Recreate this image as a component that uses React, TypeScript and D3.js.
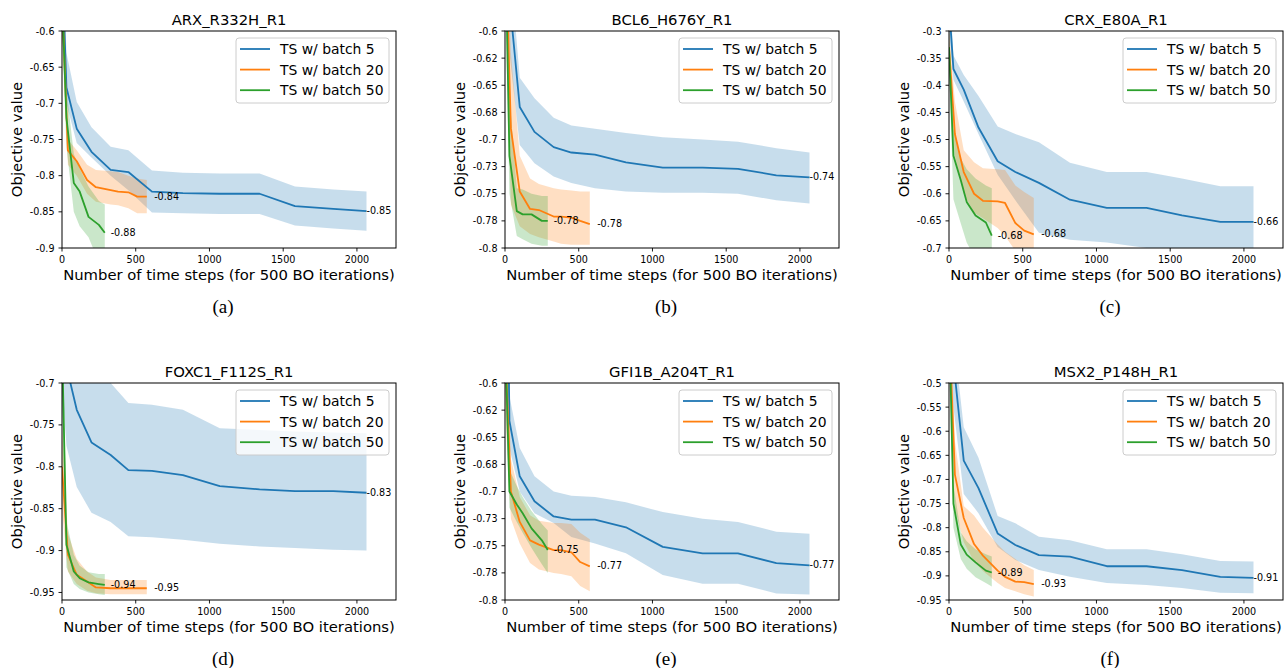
import React from "react";
import * as d3 from "d3";

// time-step grids for each batch size
const STEPS_B5 = [0, 30, 100, 200, 330, 450, 610, 820, 1070, 1340, 1580, 1840, 2065];
const STEPS_B20 = [0, 40, 100, 170, 230, 330, 380, 450, 510, 575];
const STEPS_B50 = [0, 30, 80, 120, 180, 250, 290];

const X_TICKS = [0, 500, 1000, 1500, 2000];
const SERIES_NAMES = ["TS w/ batch 5", "TS w/ batch 20", "TS w/ batch 50"];
const COLORS = ["#1f77b4", "#ff7f0e", "#2ca02c"];
const CAPTIONS = ["(a)", "(b)", "(c)", "(d)", "(e)", "(f)"];

// (a) ARX_R332H_R1
const arxMean5 = [-0.5, -0.678, -0.735, -0.767, -0.792, -0.795, -0.822, -0.824, -0.825, -0.825, -0.842, -0.846, -0.849];
const arxHi5 = [-0.45, -0.63, -0.698, -0.733, -0.76, -0.765, -0.793, -0.796, -0.797, -0.797, -0.815, -0.819, -0.822];
const arxLo5 = [-0.55, -0.7, -0.755, -0.775, -0.8, -0.82, -0.851, -0.852, -0.853, -0.853, -0.869, -0.873, -0.876];
const arxMean20 = [-0.55, -0.765, -0.78, -0.806, -0.816, -0.82, -0.822, -0.823, -0.829, -0.829];
const arxHi20 = [-0.5, -0.75, -0.765, -0.785, -0.792, -0.794, -0.795, -0.8, -0.804, -0.806];
const arxLo20 = [-0.6, -0.785, -0.8, -0.825, -0.836, -0.84, -0.841, -0.845, -0.852, -0.852];
const arxMean50 = [-0.55, -0.72, -0.81, -0.822, -0.857, -0.868, -0.879];
const arxHi50 = [-0.5, -0.68, -0.77, -0.79, -0.815, -0.835, -0.84];
const arxLo50 = [-0.6, -0.76, -0.85, -0.87, -0.885, -0.92, -0.93];
const arxEnds = ["-0.85", "-0.84", "-0.88"];

// (b) BCL6_H676Y_R1
const bclMean5 = [-0.45, -0.57, -0.67, -0.693, -0.707, -0.712, -0.714, -0.721, -0.726, -0.726, -0.727, -0.733, -0.735];
const bclHi5 = [-0.4, -0.53, -0.643, -0.662, -0.68, -0.687, -0.69, -0.694, -0.698, -0.7, -0.702, -0.708, -0.712];
const bclLo5 = [-0.5, -0.62, -0.705, -0.722, -0.734, -0.74, -0.745, -0.748, -0.749, -0.749, -0.75, -0.756, -0.759];
const bclMean20 = [-0.5, -0.69, -0.748, -0.764, -0.765, -0.771, -0.771, -0.772, -0.775, -0.778];
const bclHi20 = [-0.45, -0.62, -0.715, -0.736, -0.741, -0.745, -0.746, -0.747, -0.748, -0.748];
const bclLo20 = [-0.55, -0.76, -0.78, -0.787, -0.79, -0.794, -0.796, -0.797, -0.797, -0.797];
const bclMean50 = [-0.5, -0.715, -0.766, -0.769, -0.769, -0.775, -0.775];
const bclHi50 = [-0.45, -0.66, -0.745, -0.746, -0.75, -0.752, -0.752];
const bclLo50 = [-0.55, -0.75, -0.789, -0.792, -0.796, -0.798, -0.798];
const bclEnds = ["-0.74", "-0.78", "-0.78"];

// (c) CRX_E80A_R1
const crxMean5 = [-0.25, -0.37, -0.408, -0.478, -0.54, -0.56, -0.58, -0.611, -0.626, -0.626, -0.64, -0.652, -0.652];
const crxHi5 = [-0.2, -0.345, -0.381, -0.42, -0.476, -0.49, -0.505, -0.543, -0.56, -0.56, -0.572, -0.586, -0.586];
const crxLo5 = [-0.3, -0.39, -0.43, -0.49, -0.565, -0.612, -0.672, -0.685, -0.69, -0.7, -0.705, -0.71, -0.71];
const crxMean20 = [-0.33, -0.49, -0.56, -0.6, -0.613, -0.614, -0.617, -0.654, -0.668, -0.675];
const crxHi20 = [-0.3, -0.43, -0.52, -0.542, -0.553, -0.555, -0.556, -0.585, -0.597, -0.608];
const crxLo20 = [-0.36, -0.53, -0.6, -0.635, -0.645, -0.663, -0.678, -0.705, -0.72, -0.73];
const crxMean50 = [-0.33, -0.53, -0.575, -0.615, -0.64, -0.653, -0.677];
const crxHi50 = [-0.3, -0.48, -0.535, -0.555, -0.572, -0.585, -0.59];
const crxLo50 = [-0.36, -0.61, -0.655, -0.69, -0.72, -0.75, -0.76];
const crxEnds = ["-0.66", "-0.68", "-0.68"];

// (d) FOXC1_F112S_R1
const foxMean5 = [-0.6, -0.68, -0.732, -0.771, -0.786, -0.804, -0.805, -0.81, -0.823, -0.827, -0.829, -0.829, -0.831];
const foxHi5 = [-0.5, -0.55, -0.62, -0.67, -0.7, -0.724, -0.726, -0.732, -0.754, -0.756, -0.758, -0.759, -0.76];
const foxLo5 = [-0.7, -0.775, -0.824, -0.855, -0.866, -0.883, -0.884, -0.887, -0.892, -0.895, -0.897, -0.899, -0.9];
const foxMean20 = [-0.8, -0.905, -0.929, -0.937, -0.944, -0.945, -0.945, -0.945, -0.945, -0.945];
const foxHi20 = [-0.75, -0.88, -0.91, -0.925, -0.932, -0.935, -0.935, -0.935, -0.935, -0.935];
const foxLo20 = [-0.85, -0.925, -0.94, -0.948, -0.951, -0.952, -0.952, -0.952, -0.952, -0.952];
const foxMean50 = [-0.65, -0.893, -0.925, -0.933, -0.938, -0.94, -0.941];
const foxHi50 = [-0.6, -0.865, -0.905, -0.918, -0.926, -0.928, -0.928];
const foxLo50 = [-0.72, -0.92, -0.94, -0.946, -0.95, -0.952, -0.953];
const foxEnds = ["-0.83", "-0.95", "-0.94"];

// (e) GFI1B_A204T_R1
const gfiMean5 = [-0.3, -0.635, -0.686, -0.709, -0.723, -0.726, -0.726, -0.733, -0.751, -0.757, -0.757, -0.766, -0.768];
const gfiHi5 = [-0.25, -0.612, -0.66, -0.686, -0.7, -0.704, -0.705, -0.71, -0.719, -0.725, -0.728, -0.737, -0.739];
const gfiLo5 = [-0.35, -0.66, -0.7, -0.72, -0.729, -0.742, -0.748, -0.757, -0.777, -0.785, -0.785, -0.794, -0.795];
const gfiMean20 = [-0.56, -0.7, -0.728, -0.745, -0.749, -0.754, -0.754, -0.756, -0.765, -0.769];
const gfiHi20 = [-0.5, -0.67, -0.705, -0.722, -0.727, -0.729, -0.729, -0.73, -0.738, -0.744];
const gfiLo20 = [-0.62, -0.725, -0.748, -0.766, -0.772, -0.775, -0.776, -0.778, -0.787, -0.792];
const gfiMean50 = [-0.55, -0.7, -0.712, -0.72, -0.734, -0.745, -0.754];
const gfiHi50 = [-0.5, -0.68, -0.695, -0.705, -0.718, -0.73, -0.736];
const gfiLo50 = [-0.6, -0.715, -0.728, -0.738, -0.752, -0.767, -0.775];
const gfiEnds = ["-0.77", "-0.77", "-0.75"];

// (f) MSX2_P148H_R1
const msxMean5 = [-0.3, -0.456, -0.661, -0.718, -0.812, -0.836, -0.857, -0.86, -0.88, -0.88, -0.888, -0.902, -0.904];
const msxHi5 = [-0.2, -0.4, -0.592, -0.655, -0.776, -0.791, -0.819, -0.826, -0.845, -0.845, -0.855, -0.869, -0.87];
const msxLo5 = [-0.4, -0.55, -0.73, -0.77, -0.84, -0.867, -0.888, -0.902, -0.915, -0.919, -0.925, -0.935, -0.936];
const msxMean20 = [-0.37, -0.69, -0.78, -0.834, -0.858, -0.889, -0.902, -0.912, -0.913, -0.917];
const msxHi20 = [-0.3, -0.62, -0.755, -0.775, -0.8, -0.835, -0.85, -0.865, -0.878, -0.888];
const msxLo20 = [-0.45, -0.76, -0.83, -0.87, -0.89, -0.915, -0.925, -0.932, -0.938, -0.943];
const msxMean50 = [-0.35, -0.75, -0.835, -0.856, -0.872, -0.889, -0.893];
const msxHi50 = [-0.3, -0.71, -0.81, -0.828, -0.845, -0.855, -0.86];
const msxLo50 = [-0.45, -0.8, -0.865, -0.885, -0.903, -0.915, -0.922];
const msxEnds = ["-0.91", "-0.93", "-0.89"];

// y tick values and their printed labels
const ticksA = [-0.9, -0.85, -0.8, -0.75, -0.7, -0.65, -0.6];
const labelsA = ["-0.9", "-0.85", "-0.8", "-0.75", "-0.7", "-0.65", "-0.6"];
const ticksB = [-0.8, -0.775, -0.75, -0.725, -0.7, -0.675, -0.65, -0.625, -0.6];
const labelsB = ["-0.8", "-0.78", "-0.75", "-0.73", "-0.7", "-0.68", "-0.65", "-0.62", "-0.6"];
const ticksC = [-0.7, -0.65, -0.6, -0.55, -0.5, -0.45, -0.4, -0.35, -0.3];
const labelsC = ["-0.7", "-0.65", "-0.6", "-0.55", "-0.5", "-0.45", "-0.4", "-0.35", "-0.3"];
const ticksD = [-0.95, -0.9, -0.85, -0.8, -0.75, -0.7];
const labelsD = ["-0.95", "-0.9", "-0.85", "-0.8", "-0.75", "-0.7"];
const ticksF = [-0.95, -0.9, -0.85, -0.8, -0.75, -0.7, -0.65, -0.6, -0.55, -0.5];
const labelsF = ["-0.95", "-0.9", "-0.85", "-0.8", "-0.75", "-0.7", "-0.65", "-0.6", "-0.55", "-0.5"];

const STEPS = [STEPS_B5, STEPS_B20, STEPS_B50];

const PANELS = [
  { title: "ARX_R332H_R1", yDomain: [-0.9, -0.6], ticks: ticksA, labels: labelsA,
    mean: [arxMean5, arxMean20, arxMean50], lo: [arxLo5, arxLo20, arxLo50], hi: [arxHi5, arxHi20, arxHi50], ends: arxEnds },
  { title: "BCL6_H676Y_R1", yDomain: [-0.8, -0.6], ticks: ticksB, labels: labelsB,
    mean: [bclMean5, bclMean20, bclMean50], lo: [bclLo5, bclLo20, bclLo50], hi: [bclHi5, bclHi20, bclHi50], ends: bclEnds },
  { title: "CRX_E80A_R1", yDomain: [-0.7, -0.3], ticks: ticksC, labels: labelsC,
    mean: [crxMean5, crxMean20, crxMean50], lo: [crxLo5, crxLo20, crxLo50], hi: [crxHi5, crxHi20, crxHi50], ends: crxEnds },
  { title: "FOXC1_F112S_R1", yDomain: [-0.959, -0.7], ticks: ticksD, labels: labelsD,
    mean: [foxMean5, foxMean20, foxMean50], lo: [foxLo5, foxLo20, foxLo50], hi: [foxHi5, foxHi20, foxHi50], ends: foxEnds },
  { title: "GFI1B_A204T_R1", yDomain: [-0.8, -0.6], ticks: ticksB, labels: labelsB,
    mean: [gfiMean5, gfiMean20, gfiMean50], lo: [gfiLo5, gfiLo20, gfiLo50], hi: [gfiHi5, gfiHi20, gfiHi50], ends: gfiEnds },
  { title: "MSX2_P148H_R1", yDomain: [-0.95, -0.5], ticks: ticksF, labels: labelsF,
    mean: [msxMean5, msxMean20, msxMean50], lo: [msxLo5, msxLo20, msxLo50], hi: [msxHi5, msxHi20, msxHi50], ends: msxEnds },
];

const COL_LEFT = [62, 505, 949];
const COL_RIGHT = [396, 839, 1283];
const ROW_TOP = [31, 383];
const ROW_BOTTOM = [248, 600];
const END_OFFSET = [0, 50, 40]; // label nudge in time steps

const FONT = "DejaVu Sans";

const Panel = ({ p, idx }) => {
  const col = idx % 3;
  const row = Math.floor(idx / 3);
  const left = COL_LEFT[col];
  const right = COL_RIGHT[col];
  const top = ROW_TOP[row];
  const bottom = ROW_BOTTOM[row];

  const x = d3.scaleLinear().domain([0, 2265]).range([left, right]);
  const y = d3.scaleLinear().domain(p.yDomain).range([bottom, top]);

  const clipId = `clip-${idx}`;

  const band = (k) =>
    d3
      .area()
      .x((_, i) => x(STEPS[k][i]))
      .y0((_, i) => y(p.lo[k][i]))
      .y1((_, i) => y(p.hi[k][i]))(STEPS[k]);

  const line = (k) =>
    d3
      .line()
      .x((_, i) => x(STEPS[k][i]))
      .y((_, i) => y(p.mean[k][i]))(STEPS[k]);

  const legW = 153;
  const legH = 65;
  const legX = right - 7 - legW;
  const legY = top + 7;

  return (
    <g>
      <defs>
        <clipPath id={clipId}>
          <rect x={left} y={top} width={right - left} height={bottom - top} />
        </clipPath>
      </defs>

      <g clipPath={`url(#${clipId})`}>
        {[0, 1, 2].map((k) => (
          <path key={`b${k}`} d={band(k)} fill={COLORS[k]} fillOpacity={0.25} stroke="none" />
        ))}
        {[0, 1, 2].map((k) => (
          <path key={`l${k}`} d={line(k)} fill="none" stroke={COLORS[k]} strokeWidth={1.8} strokeLinejoin="round" />
        ))}
      </g>

      {[0, 1, 2].map((k) => {
        const n = STEPS[k].length - 1;
        return (
          <text
            key={`e${k}`}
            x={x(STEPS[k][n] + END_OFFSET[k])}
            y={y(p.mean[k][n]) + 3}
            fontFamily={FONT}
            fontSize={9.6}
            fill="#000"
          >
            {p.ends[k]}
          </text>
        );
      })}

      <rect x={left} y={top} width={right - left} height={bottom - top} fill="none" stroke="#000" strokeWidth={1} />

      {X_TICKS.map((t) => (
        <g key={`x${t}`}>
          <line x1={x(t)} x2={x(t)} y1={bottom} y2={bottom + 3.5} stroke="#000" strokeWidth={0.9} />
          <text x={x(t)} y={bottom + 14.7} textAnchor="middle" fontFamily={FONT} fontSize={9.6}>
            {t}
          </text>
        </g>
      ))}

      {p.ticks.map((t, i) => (
        <g key={`y${i}`}>
          <line x1={left - 3.5} x2={left} y1={y(t)} y2={y(t)} stroke="#000" strokeWidth={0.9} />
          <text x={left - 7.5} y={y(t) + 3.5} textAnchor="end" fontFamily={FONT} fontSize={9.6}>
            {p.labels[i]}
          </text>
        </g>
      ))}

      <text x={(left + right) / 2} y={top - 6} textAnchor="middle" fontFamily={FONT} fontSize={14.8}>
        {p.title}
      </text>
      <text x={(left + right) / 2} y={bottom + 32} textAnchor="middle" fontFamily={FONT} fontSize={14.8}>
        Number of time steps (for 500 BO iterations)
      </text>
      <text
        transform={`translate(${left - 40},${(top + bottom) / 2}) rotate(-90)`}
        textAnchor="middle"
        fontFamily={FONT}
        fontSize={14.8}
      >
        Objective value
      </text>

      <g>
        <rect x={legX} y={legY} width={legW} height={legH} rx={3} fill="#fff" fillOpacity={0.8} stroke="#cccccc" strokeWidth={1} />
        {SERIES_NAMES.map((name, k) => {
          const cy = legY + 11 + k * 20.6;
          return (
            <g key={name}>
              <line x1={legX + 4} x2={legX + 34} y1={cy} y2={cy} stroke={COLORS[k]} strokeWidth={1.8} />
              <text x={legX + 44} y={cy + 5} fontFamily={FONT} fontSize={13.9}>
                {name}
              </text>
            </g>
          );
        })}
      </g>

      <text x={left + 161} y={bottom + 64.5} textAnchor="middle" fontFamily="Liberation Serif" fontSize={19}>
        {CAPTIONS[idx]}
      </text>
    </g>
  );
};

export default function App() {
  return (
    <svg
      width={1284}
      height={668}
      style={{ position: "absolute", left: 0, top: 0, background: "#fff" }}
    >
      {PANELS.map((p, i) => (
        <Panel key={p.title} p={p} idx={i} />
      ))}
    </svg>
  );
}
